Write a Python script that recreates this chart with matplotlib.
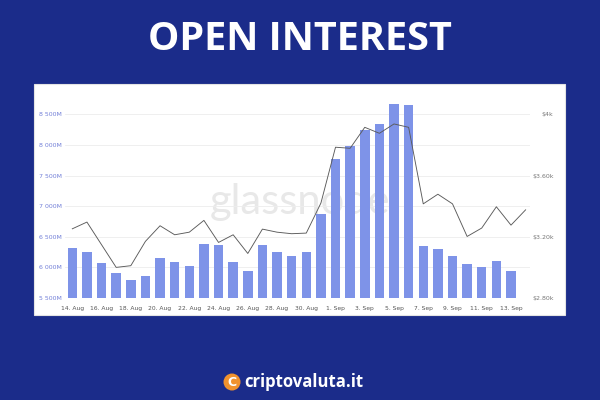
import numpy as np
import matplotlib
matplotlib.use("Agg")
import matplotlib.pyplot as plt
from matplotlib.patches import Rectangle, Ellipse

# open interest (M USD), 14 Aug .. 13 Sep
oi = [6315, 6250, 6076, 5913, 5793, 5864, 6158, 6087, 6022, 6386,
      6370, 6092, 5946, 6364, 6250, 6185, 6250, 6875, 7772, 7984,
      8245, 8342, 8668, 8652, 6353, 6299, 6190, 6060, 6005, 6109, 5940]
# ETH price (USD), 14 Aug .. 14 Sep
price = [3252, 3296, 3148, 3000, 3011, 3170, 3272, 3213, 3230, 3307,
         3163, 3213, 3091, 3250, 3230, 3220, 3224, 3420, 3785, 3778,
         3915, 3876, 3937, 3915, 3415, 3478, 3415, 3202, 3257, 3396,
         3276, 3376]
xlabels = ["14. Aug", "16. Aug", "18. Aug", "20. Aug", "22. Aug", "24. Aug",
           "26. Aug", "28. Aug", "30. Aug", "1. Sep", "3. Sep", "5. Sep",
           "7. Sep", "9. Sep", "11. Sep", "13. Sep"]
left_ticks = [5500, 6000, 6500, 7000, 7500, 8000, 8500]
left_labels = ["5 500M", "6 000M", "6 500M", "7 000M", "7 500M", "8 000M", "8 500M"]
right_ticks = [2800, 3200, 3600, 4000]
right_labels = ["$2.80k", "$3.20k", "$3.60k", "$4k"]

bg = "#1b2c8a"
fig = plt.figure(figsize=(6, 4), dpi=100, facecolor=bg)

# white card behind the chart
fig.patches.append(Rectangle((34 / 600, 85 / 400), 531 / 600, 231 / 400,
                             transform=fig.transFigure, facecolor="white",
                             edgecolor="#e4e4e4", lw=0.8, zorder=-5))

fig.text(0.5, 0.90, "OPEN INTEREST", ha="center", va="center", color="white",
         fontsize=28.5, fontweight="bold", family=["Open Sans", "DejaVu Sans"])

ax = fig.add_axes([65 / 600, 102 / 400, 465 / 600, 199 / 400])
ax.set_facecolor("none")
x = np.arange(len(oi))
ax.bar(x, oi, width=0.65, color="#7e93e8", zorder=2)
ax.set_ylim(5500, 8750)
ax.set_xlim(-0.5, 31.3)
ax.set_yticks(left_ticks)
ax.set_yticklabels(left_labels)
ax.set_xticks(np.arange(0, len(oi), 2))
ax.set_xticklabels(xlabels)
ax.grid(axis="y", color="#ededed", lw=0.6, zorder=0)
for s in ax.spines.values():
    s.set_visible(False)
ax.tick_params(axis="y", length=0, labelsize=4.5, labelcolor="#7380d8", pad=2)
ax.tick_params(axis="x", length=0, labelsize=4.3, labelcolor="#555555", pad=6)

ax2 = ax.twinx()
ax2.plot(np.arange(len(price)), price, color="#5a5a5a", lw=0.65, zorder=3)
ax2.set_ylim(2800, 2800 + 3250 * 0.4)
ax2.set_yticks(right_ticks)
ax2.set_yticklabels(right_labels)
for s in ax2.spines.values():
    s.set_visible(False)
ax2.tick_params(axis="y", length=0, labelsize=4.5, labelcolor="#777777", pad=17)
for t in ax2.get_yticklabels():
    t.set_horizontalalignment("right")

ax.text(0.505, 0.48, "glassnode", transform=ax.transAxes, ha="center", va="center",
        fontsize=30, color="#e8e8e8", zorder=1, family=["Lato", "DejaVu Sans"])

# footer logo
fig.patches.append(Ellipse((232 / 600, 1 - 382 / 400), 17 / 600, 17 / 400,
                           transform=fig.transFigure,
                           facecolor="#f0922e", edgecolor="none"))
fig.text(232 / 600, 1 - 382.5 / 400, "C", ha="center", va="center", color="white",
         fontsize=9, fontweight="bold")
fig.text(244 / 600, 1 - 382 / 400, "criptovaluta.it", ha="left", va="center",
         color="white", fontsize=12, fontweight="bold",
         family=["Open Sans", "DejaVu Sans"])

fig.savefig("out.png", dpi=100, facecolor=bg)
